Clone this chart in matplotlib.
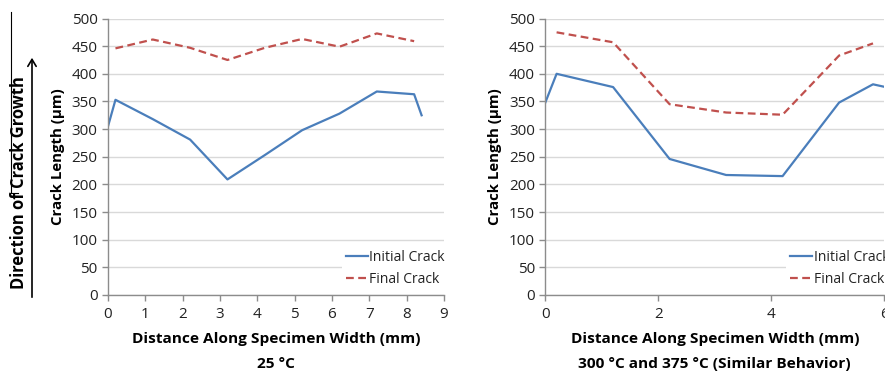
import matplotlib
matplotlib.use("Agg")
import matplotlib.pyplot as plt
from matplotlib.lines import Line2D
from matplotlib.patches import FancyArrowPatch

plt.rcParams['font.family'] = ['Open Sans', 'DejaVu Sans']

# 25 C specimen
x_25 = [0, 0.2, 1.2, 2.2, 3.2, 4.2, 5.2, 6.2, 7.2, 8.2, 8.4]
init_25 = [305, 353, 318, 281, 209, 253, 298, 328, 368, 363, 325]
x_25_final = [0.2, 1.2, 2.2, 3.2, 4.2, 5.2, 6.2, 7.2, 8.2]
final_25 = [446, 462, 447, 425, 447, 463, 449, 473, 459]

# 300 C / 375 C specimen
x_hot = [0, 0.2, 1.2, 2.2, 3.2, 4.2, 5.2, 5.8, 6.2]
init_hot = [348, 400, 376, 246, 217, 215, 348, 381, 372]
x_hot_final = [0.2, 1.2, 2.2, 3.2, 4.2, 5.2, 5.8]
final_hot = [475, 457, 345, 330, 326, 433, 455]

BLUE = "#4a7ebb"
RED = "#c0504d"
GRID = "#d9d9d9"
SPINE = "#8c8c8c"

fig = plt.figure(figsize=(8.85, 3.75), dpi=100)
ax1 = fig.add_axes([108 / 885, 1 - 295 / 375, 336 / 885, 276.5 / 375])
ax2 = fig.add_axes([545.3 / 885, 1 - 295 / 375, 339 / 885, 276.5 / 375])


def style(ax, xmax, xstep, xs, init, xf, final, title, leg_anchor):
    ax.plot(xs, init, color=BLUE, lw=1.6, label="Initial Crack")
    ax.plot(xf, final, color=RED, lw=1.6, ls=(0, (3.5, 2)), label="Final Crack")
    ax.set_xlim(0, xmax)
    ax.set_ylim(0, 500)
    ax.set_xticks(range(0, xmax + 1, xstep))
    ax.set_yticks(range(0, 501, 50))
    ax.grid(axis="y", color=GRID, lw=1.0)
    ax.set_axisbelow(True)
    for s in ("top", "right"):
        ax.spines[s].set_visible(False)
    for s in ("left", "bottom"):
        ax.spines[s].set_color(SPINE)
        ax.spines[s].set_linewidth(1.0)
    ax.tick_params(colors=SPINE, labelcolor="#222222", labelsize=11,
                   length=4, width=1.0, direction="out")
    ax.tick_params(axis="x", pad=5)
    ax.set_ylabel("Crack Length (µm)", fontsize=10.8, fontweight="bold",
                  labelpad=5)
    ax.set_xlabel("Distance Along Specimen Width (mm)\n" + title,
                  fontsize=11.1, fontweight="bold", linespacing=1.95, labelpad=7)
    leg = ax.legend(loc="lower left", bbox_to_anchor=leg_anchor,
                    frameon=True, fancybox=False, framealpha=1,
                    facecolor="white", edgecolor="none", fontsize=10,
                    handlelength=1.6, handletextpad=0.1, borderpad=0.3,
                    labelspacing=0.5, borderaxespad=0)
    for t in leg.get_texts():
        t.set_color("#222222")


style(ax1, 9, 1, x_25, init_25, x_25_final, final_25, "25 °C", (0.695, 0.015))
style(ax2, 6, 2, x_hot, init_hot, x_hot_final, final_hot,
      "300 °C and 375 °C (Similar Behavior)", (0.71, 0.015))

# direction of growth annotation
fig.text(19 / 885, 1 - 183 / 375, "Direction of Crack Growth", rotation=90,
         ha="center", va="center", fontsize=11.9, fontweight="bold")
fig.patches.append(FancyArrowPatch(
    (32 / 885, 1 - 300 / 375), (32 / 885, 1 - 55 / 375),
    transform=fig.transFigure, arrowstyle="->,head_length=5,head_width=3",
    color="black", lw=1.2, mutation_scale=1))
fig.lines.append(Line2D([11 / 885, 11 / 885, 18 / 885],
                        [1 - 12 / 375, 1 - 193 / 375, 1 - 193 / 375],
                        transform=fig.transFigure, color="black", lw=0.8))

fig.savefig("out.png", dpi=100)
